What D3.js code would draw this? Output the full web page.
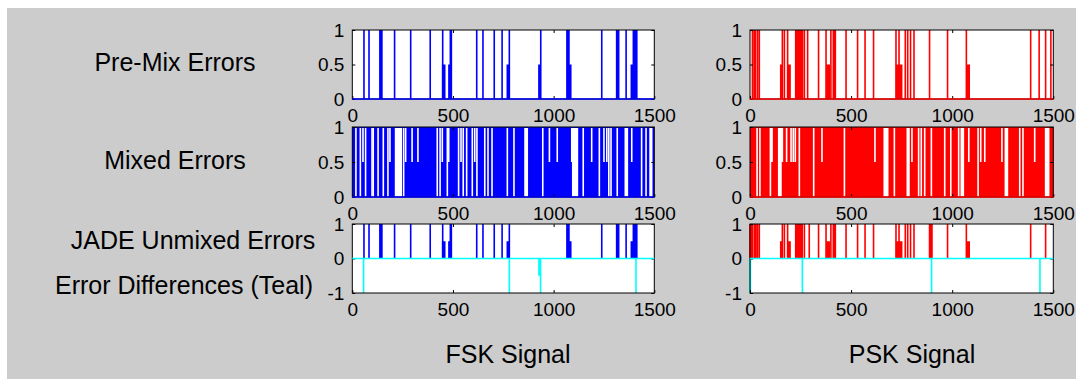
<!DOCTYPE html>
<meta charset="utf-8">
<script src="https://d3js.org/d3.v7.min.js"></script>
<style>
  body { margin: 0; background: #fff; }
  text { font-family: "Liberation Sans", Arial, sans-serif; fill: #000; }
</style>
<body>
<svg id="chart" width="1082" height="389"></svg>
<script>

// tick values
const xTicks = [0, 500, 1000, 1500];
const yTicksErr = [0, 0.5, 1];
const yTicksDiff = [-1, 0, 1];

// labels
const rowLabels = ["Pre-Mix Errors", "Mixed Errors", "JADE Unmixed Errors", "Error Differences (Teal)"];
const columnTitles = ["FSK Signal", "PSK Signal"];

// error runs: [first sample, last sample, value]
const fskPreMix = [
  [58, 58, 1], [83, 83, 1], [137, 147, 1], [210, 210, 1], [290, 290, 1], [387, 387, 1],
  [449, 449, 1], [449, 459, 0.5], [480, 486, 0.5], [487, 492, 1],
  [618, 618, 1], [649, 649, 1], [705, 705, 1], [744, 744, 1],
  [770, 777, 0.5], [780, 780, 1], [927, 933, 0.5], [936, 936, 1],
  [1066, 1076, 1], [1076, 1085, 0.5], [1239, 1239, 1], [1313, 1323, 1], [1360, 1360, 1],
  [1386, 1396, 0.5], [1396, 1413, 1]
];
const fskUnmixed = [
  [58, 58, 1], [83, 83, 1], [137, 147, 1], [210, 210, 1], [290, 290, 1], [387, 387, 1],
  [449, 449, 1], [449, 459, 0.5], [480, 486, 0.5], [487, 492, 1],
  [618, 618, 1], [649, 649, 1], [705, 705, 1], [744, 744, 1],
  [770, 777, 0.5], [780, 780, 1],
  [1066, 1076, 1], [1076, 1085, 0.5], [1239, 1239, 1], [1313, 1323, 1], [1360, 1360, 1],
  [1386, 1396, 0.5], [1396, 1413, 1]
];
const fskDiff = [[56, 56, -1], [780, 780, -1], [927, 931, -0.5], [935, 935, -1], [1409, 1409, -1]];

const pskPreMix = [
  [12, 12, 1], [20, 28, 1], [38, 38, 1], [46, 46, 1], [152, 158, 0.5], [160, 160, 1], [170, 170, 1],
  [186, 186, 1], [189, 198, 0.5], [226, 260, 1], [269, 269, 1], [285, 285, 1], [339, 339, 1],
  [376, 376, 1], [380, 392, 0.5], [400, 400, 1], [412, 422, 1], [475, 475, 1], [532, 532, 1],
  [569, 569, 1], [611, 611, 1], [722, 722, 1], [737, 737, 1], [725, 750, 0.5], [768, 768, 1],
  [780, 780, 1], [794, 794, 1], [811, 811, 1], [888, 888, 1], [977, 977, 1],
  [1070, 1070, 1], [1074, 1084, 0.5], [1388, 1388, 1], [1430, 1430, 1], [1462, 1462, 1], [1488, 1488, 1]
];
const pskUnmixed = [
  [0, 8, 1], [12, 12, 1], [21, 30, 1], [38, 38, 1], [46, 46, 1], [152, 158, 0.5], [160, 160, 1], [170, 170, 1],
  [186, 186, 1], [189, 198, 0.5], [226, 258, 1], [269, 269, 1], [293, 293, 1], [339, 339, 1],
  [376, 376, 1], [380, 392, 0.5], [400, 400, 1], [412, 422, 1], [475, 475, 1], [532, 532, 1],
  [569, 569, 1], [611, 611, 1], [722, 722, 1], [737, 737, 1], [725, 750, 0.5], [768, 768, 1],
  [780, 780, 1], [794, 794, 1], [811, 811, 1], [888, 900, 1], [977, 977, 1],
  [1070, 1070, 1], [1074, 1084, 0.5], [1388, 1388, 1], [1462, 1462, 1]
];
const pskDiff = [[0, 2, -1], [259, 259, -1], [898, 898, -1], [1434, 1434, -1]];

// mixed signals are errors almost everywhere: [first, last, level left standing] for the gaps
const fskMixedGaps = [
  [18, 18, 0], [40, 40, 0], [53, 53, 0.5], [66, 66, 0], [98, 98, 0], [104, 104, 0], [128, 128, 0],
  [154, 154, 0], [177, 177, 0], [187, 187, 0.5], [215, 243, 0], [255, 255, 0], [265, 265, 0.5],
  [297, 297, 0.5], [326, 326, 0.5], [422, 422, 0], [436, 436, 0], [447, 447, 0.5], [472, 472, 0],
  [479, 479, 0.5], [528, 528, 0], [540, 540, 0.5], [551, 551, 0], [568, 568, 0], [596, 596, 0],
  [608, 608, 0.5], [619, 619, 0], [658, 658, 0], [674, 674, 0], [694, 694, 0], [770, 770, 0],
  [803, 803, 0], [858, 869, 0], [946, 946, 0], [979, 979, 0.5], [1018, 1018, 0.5],
  [1090, 1095, 0.5], [1095, 1118, 0], [1147, 1147, 0], [1189, 1189, 0.5], [1227, 1227, 0],
  [1250, 1250, 0.5], [1264, 1264, 0.5], [1274, 1274, 0], [1285, 1285, 0], [1316, 1316, 0],
  [1356, 1366, 0], [1388, 1388, 0.5], [1437, 1437, 0], [1459, 1459, 0], [1479, 1487, 0]
];
const pskMixedGaps = [
  [35, 35, 0], [49, 49, 0], [101, 101, 0], [103, 109, 0.5], [142, 153, 0], [153, 160, 0.5],
  [181, 181, 0.5], [203, 203, 0.5], [214, 214, 0.5], [224, 224, 0.5], [244, 244, 0], [315, 315, 0],
  [356, 356, 0.5], [467, 467, 0], [618, 618, 0.5], [664, 681, 0], [714, 714, 0], [778, 786, 0],
  [801, 801, 0.5], [834, 834, 0], [847, 847, 0], [864, 864, 0], [897, 897, 0], [963, 963, 0],
  [993, 993, 0], [1032, 1032, 0], [1045, 1055, 0], [1082, 1082, 0.5], [1128, 1128, 0],
  [1141, 1141, 0.5], [1161, 1161, 0.5], [1246, 1246, 0.5], [1263, 1273, 0], [1334, 1334, 0],
  [1350, 1350, 0], [1408, 1408, 0.5], [1462, 1477, 0]
];

const svg = d3.select("#chart");

// grey figure area
svg.append("rect")
  .attr("x", 7).attr("y", 8).attr("width", 1069).attr("height", 371)
  .attr("fill", "#cccccc");

const columns = [
  {left: 352.3, right: 654.3, color: "#0000ff", pre: fskPreMix, gaps: fskMixedGaps, unmixed: fskUnmixed, diff: fskDiff, title: columnTitles[0], titleX: 508},
  {left: 750, right: 1053.3, color: "#ff0000", pre: pskPreMix, gaps: pskMixedGaps, unmixed: pskUnmixed, diff: pskDiff, title: columnTitles[1], titleX: 912}
];
const rows = [{top: 30, bottom: 99}, {top: 127, bottom: 197}, {top: 224, bottom: 293}];
const teal = "#00ffff";
const lw = 1.6;

function runs(g, x, y, data, color) {
  g.append("g").selectAll("rect")
    .data(data)
    .join("rect")
      .attr("x", d => x(d[0]) - lw / 2)
      .attr("width", d => x(d[1]) - x(d[0]) + lw)
      .attr("y", d => Math.min(y(d[2]), y(0)))
      .attr("height", d => Math.abs(y(d[2]) - y(0)))
      .attr("fill", color);
}

function frame(g, x, y, yTicks, row) {
  const h = row.bottom - row.top;
  const w = x.range()[1] - x.range()[0];
  g.append("rect")
    .attr("x", x.range()[0]).attr("y", 0)
    .attr("width", w).attr("height", h)
    .attr("fill", "none").attr("stroke", "#000").attr("stroke-width", 1);

  const ax = g.append("g").attr("transform", `translate(0,${h})`)
    .call(d3.axisBottom(x).tickValues(xTicks).tickSizeInner(-3).tickSizeOuter(0).tickPadding(10).tickFormat(d => String(d)));
  ax.select(".domain").remove();
  g.append("g")
    .call(d3.axisTop(x).tickValues([500, 1000]).tickSize(-3).tickFormat(""))
    .select(".domain").remove();
  const ay = g.append("g").attr("transform", `translate(${x.range()[0]},0)`)
    .call(d3.axisLeft(y).tickValues(yTicks).tickSizeInner(-3).tickSizeOuter(0).tickPadding(8).tickFormat(d => String(d)));
  ay.select(".domain").remove();
  g.append("g").attr("transform", `translate(${x.range()[1]},0)`)
    .call(d3.axisRight(y).tickValues(yTicks).tickSize(-3).tickFormat(""))
    .select(".domain").remove();
  g.selectAll(".tick text").attr("font-size", 19).attr("font-family", null);
  g.selectAll(".tick line").attr("stroke", "#000");
}

columns.forEach(col => {
  const x = d3.scaleLinear().domain([0, 1500]).range([col.left, col.right]);

  // pre-mix
  {
    const r = rows[0];
    const y = d3.scaleLinear().domain([0, 1]).range([r.bottom - r.top, 0]);
    const g = svg.append("g").attr("transform", `translate(0,${r.top})`);
    g.append("rect").attr("x", col.left).attr("width", col.right - col.left)
      .attr("height", r.bottom - r.top).attr("fill", "#fff");
    runs(g, x, y, col.pre, col.color);
    frame(g, x, y, yTicksErr, r);
    g.append("line").attr("x1", col.left).attr("x2", col.right)
      .attr("y1", y(0)).attr("y2", y(0)).attr("stroke", col.color).attr("stroke-width", lw);
  }

  // mixed
  {
    const r = rows[1];
    const y = d3.scaleLinear().domain([0, 1]).range([r.bottom - r.top, 0]);
    const g = svg.append("g").attr("transform", `translate(0,${r.top})`);
    g.append("rect").attr("x", col.left).attr("width", col.right - col.left)
      .attr("y", y(1)).attr("height", y(0) - y(1)).attr("fill", col.color);
    g.append("g").selectAll("rect")
      .data(col.gaps)
      .join("rect")
        .attr("x", d => x(d[0]) - lw / 2)
        .attr("width", d => x(d[1]) - x(d[0]) + lw)
        .attr("y", y(1) + 1)
        .attr("height", d => y(d[2]) - y(1) - 1)
        .attr("fill", "#fff");
    frame(g, x, y, yTicksErr, r);
    g.append("line").attr("x1", col.left).attr("x2", col.right)
      .attr("y1", y(0)).attr("y2", y(0)).attr("stroke", col.color).attr("stroke-width", lw);
  }

  // unmixed + differences
  {
    const r = rows[2];
    const y = d3.scaleLinear().domain([-1, 1]).range([r.bottom - r.top, 0]);
    const g = svg.append("g").attr("transform", `translate(0,${r.top})`);
    g.append("rect").attr("x", col.left).attr("width", col.right - col.left)
      .attr("height", r.bottom - r.top).attr("fill", "#fff");
    runs(g, x, y, col.unmixed, col.color);
    runs(g, x, y, col.diff, teal);
    frame(g, x, y, yTicksDiff, r);
    g.append("line").attr("x1", col.left).attr("x2", col.right)
      .attr("y1", y(0)).attr("y2", y(0)).attr("stroke", teal).attr("stroke-width", lw);
  }

  svg.append("text")
    .attr("x", col.titleX).attr("y", 363)
    .attr("text-anchor", "middle").attr("font-size", 25)
    .text(col.title);
});

// row labels on the left
const labelPos = [[175, 71], [175, 169], [193, 249], [184, 294]];
svg.append("g").selectAll("text")
  .data(rowLabels)
  .join("text")
    .attr("x", (d, i) => labelPos[i][0])
    .attr("y", (d, i) => labelPos[i][1])
    .attr("text-anchor", "middle")
    .attr("font-size", 25)
    .text(d => d);

</script>
</body>
